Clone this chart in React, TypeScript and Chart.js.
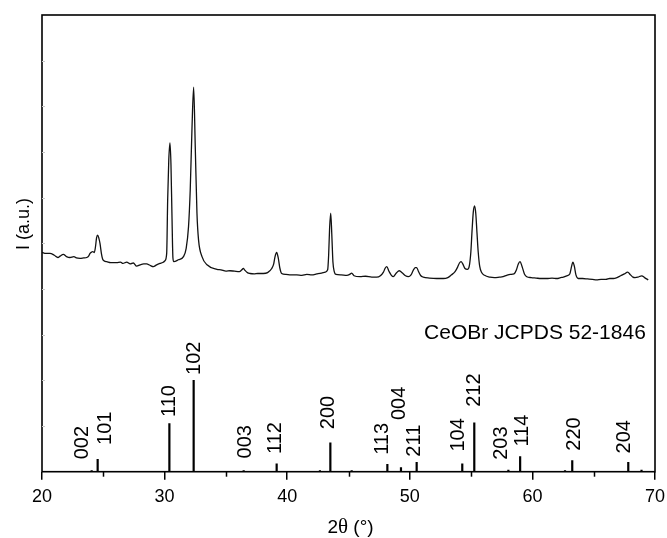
import React, { useEffect, useRef } from "react";
import { Chart, registerables } from "chart.js";
Chart.register(...registerables);

// Measured XRD pattern: [2θ (°), intensity (a.u.)]
const xrdPattern: [number, number][] = [
  [20.02, 48.0], [20.3, 47.8], [20.65, 47.8], [21.0, 47.4], [21.3, 46.9], [21.47, 47.2], [21.74, 47.6],
  [22.0, 47.1], [22.28, 46.9], [22.6, 47.1], [22.8, 46.8], [23.1, 46.7], [23.4, 46.8], [23.65, 46.9],
  [23.8, 47.2], [23.92, 47.8], [24.05, 48.1], [24.14, 48.2], [24.27, 48.0], [24.36, 49.2], [24.45, 51.2],
  [24.54, 51.8], [24.63, 51.2], [24.73, 50.0], [24.85, 47.7], [24.95, 46.5], [25.1, 46.1], [25.28, 46.0],
  [25.6, 45.8], [26.09, 45.8], [26.4, 45.9], [26.6, 45.6], [26.91, 45.9], [27.2, 45.5], [27.45, 45.7],
  [27.72, 45.0], [28.0, 45.3], [28.3, 45.5], [28.54, 45.5], [28.8, 45.2], [29.08, 44.9], [29.35, 45.3],
  [29.62, 45.6], [29.85, 45.8], [30.03, 46.2], [30.17, 47.8], [30.25, 59.5], [30.34, 68.2], [30.44, 72.0],
  [30.52, 67.2], [30.6, 56.2], [30.68, 46.8], [30.75, 46.0], [31.12, 46.4], [31.54, 47.1], [31.76, 48.9],
  [31.95, 53.6], [32.09, 61.7], [32.23, 74.8], [32.37, 84.2], [32.5, 71.2], [32.64, 56.6], [32.77, 50.7],
  [33.05, 47.1], [33.46, 45.3], [34.27, 44.3], [34.6, 44.2], [35.0, 43.9], [35.33, 44.0], [35.7, 43.9],
  [36.1, 43.8], [36.3, 44.2], [36.42, 44.5], [36.55, 44.1], [36.75, 43.6], [36.97, 43.4], [37.3, 43.3],
  [37.6, 43.4], [38.05, 43.4], [38.4, 43.6], [38.74, 44.5], [38.9, 45.5], [39.0, 47.0], [39.14, 48.0],
  [39.27, 46.8], [39.4, 44.6], [39.55, 43.4], [39.9, 43.2], [40.3, 43.1], [40.78, 43.1], [41.2, 43.0],
  [41.6, 43.2], [42.0, 43.1], [42.41, 43.3], [42.8, 43.5], [43.1, 43.7], [43.3, 44.2], [43.38, 47.4],
  [43.46, 53.4], [43.55, 56.6], [43.64, 51.8], [43.73, 45.9], [43.85, 43.7], [43.98, 43.2], [44.4, 43.1],
  [44.85, 43.0], [45.1, 43.2], [45.26, 43.5], [45.45, 42.9], [45.94, 42.7], [46.4, 42.8], [46.9, 42.6],
  [47.3, 42.6], [47.6, 42.9], [47.85, 43.7], [48.0, 44.6], [48.12, 44.9], [48.3, 43.9], [48.5, 43.0],
  [48.65, 42.7], [48.9, 43.5], [49.14, 44.0], [49.4, 43.5], [49.65, 42.9], [49.88, 42.7], [50.1, 43.1],
  [50.3, 44.2], [50.45, 44.7], [50.56, 44.7], [50.7, 43.9], [50.9, 42.9], [51.1, 42.6], [51.6, 42.4],
  [52.2, 42.3], [52.73, 42.3], [53.1, 42.5], [53.4, 43.1], [53.69, 43.8], [53.9, 44.8], [54.05, 45.7],
  [54.18, 46.0], [54.32, 45.5], [54.5, 44.5], [54.7, 44.3], [54.85, 45.0], [54.98, 48.1], [55.08, 52.9],
  [55.18, 56.9], [55.28, 58.2], [55.38, 56.6], [55.48, 52.3], [55.58, 48.1], [55.7, 45.0], [55.86, 43.6],
  [56.1, 43.0], [56.54, 42.6], [56.9, 42.5], [57.3, 42.6], [57.6, 42.7], [57.9, 43.0], [58.2, 43.2],
  [58.5, 43.3], [58.7, 44.2], [58.85, 45.5], [58.99, 46.0], [59.15, 45.0], [59.35, 43.3], [59.54, 42.7],
  [59.9, 42.5], [60.3, 42.4], [60.7, 42.3], [61.17, 42.3], [61.6, 42.4], [62.0, 42.3], [62.3, 42.5],
  [62.52, 42.6], [62.8, 42.9], [63.05, 43.3], [63.2, 45.0], [63.3, 45.9], [63.42, 45.0], [63.55, 43.1],
  [63.74, 42.3], [64.1, 42.3], [64.5, 42.2], [64.9, 42.1], [65.24, 42.0], [65.6, 42.1], [66.0, 42.1],
  [66.3, 42.3], [66.6, 42.3], [66.9, 42.5], [67.2, 42.9], [67.5, 43.3], [67.77, 43.7], [68.0, 43.1],
  [68.2, 42.6], [68.37, 42.5], [68.6, 42.6], [68.92, 42.9], [69.15, 42.5], [69.45, 42.0],
];

// Reference pattern (CeOBr JCPDS 52-1846)
const refPositions = [24.05, 24.54, 30.39, 32.37, 36.45, 39.14, 42.67, 43.52, 45.26, 48.17, 49.28, 50.56, 54.28, 55.26, 58.04, 59.0, 62.66, 63.25, 67.82, 68.9];
const refIntensities = [0.3, 2.8, 10.6, 20.1, 0.3, 1.8, 0.3, 6.4, 0.3, 1.7, 1.0, 2.1, 1.8, 10.8, 0.4, 3.4, 0.3, 2.5, 2.1, 0.4];

// hkl annotations and their anchor points in data units (2θ, intensity)
const hklLabels = ["002", "101", "110", "102", "003", "112", "200", "113", "004", "211", "104", "212", "203", "114", "220", "204"];
const hklAnchorX = [23.22, 25.11, 30.3, 32.34, 36.53, 39.0, 43.25, 47.71, 49.06, 50.29, 53.93, 55.18, 57.4, 59.13, 63.34, 67.41];
const hklAnchorY = [2.7, 5.85, 12.0, 21.2, 2.9, 3.9, 9.3, 3.7, 11.3, 3.3, 4.4, 14.2, 2.6, 5.5, 4.6, 4.0];

const xMajorTicks = [20, 30, 40, 50, 60, 70];
const xMinorTicks = [25, 35, 45, 55, 65];
const yMinorTicks = [10, 20, 30, 40, 50, 60, 70, 80, 90];

const refCaption = "CeOBr JCPDS 52-1846";
const xTitleParts = ["2", "θ", " (°)"];
const yTitle = "I (a.u.)";

const SANS = '"Liberation Sans", Arial, sans-serif';
const SERIF = '"Liberation Serif", "Times New Roman", serif';

const decorPlugin = {
  id: "decor",
  afterDraw(chart: any) {
    const { ctx, chartArea, scales } = chart;
    const xs = scales.x;
    const ys = scales.y;
    ctx.save();
    // frame
    ctx.strokeStyle = "#000";
    ctx.lineWidth = 1.6;
    ctx.strokeRect(chartArea.left, chartArea.top, chartArea.right - chartArea.left, chartArea.bottom - chartArea.top);
    // minor x ticks
    ctx.lineWidth = 1.5;
    xMinorTicks.forEach((v) => {
      const px = Math.round(xs.getPixelForValue(v)) + 0.5;
      ctx.beginPath();
      ctx.moveTo(px, chartArea.bottom);
      ctx.lineTo(px, chartArea.bottom + 5);
      ctx.stroke();
    });
    // faint inward y ticks
    ctx.strokeStyle = "#c8c8c8";
    ctx.lineWidth = 1;
    yMinorTicks.forEach((v) => {
      const py = Math.round(ys.getPixelForValue(v)) + 0.5;
      ctx.beginPath();
      ctx.moveTo(chartArea.left, py);
      ctx.lineTo(chartArea.left + 3, py);
      ctx.stroke();
    });
    // hkl labels
    ctx.fillStyle = "#000";
    ctx.font = `20px ${SANS}`;
    ctx.textAlign = "left";
    ctx.textBaseline = "middle";
    hklLabels.forEach((t, i) => {
      const px = xs.getPixelForValue(hklAnchorX[i]);
      const py = ys.getPixelForValue(hklAnchorY[i]);
      ctx.save();
      ctx.translate(px, py);
      ctx.rotate(-Math.PI / 2);
      ctx.fillText(t, 0, 1);
      ctx.restore();
    });
    // reference caption
    ctx.font = `21px ${SANS}`;
    ctx.textAlign = "right";
    ctx.fillText(refCaption, xs.getPixelForValue(69.25), ys.getPixelForValue(30.4));
    // x title with serif theta
    const fonts = [`19px ${SANS}`, `21px ${SERIF}`, `19px ${SANS}`];
    const widths = xTitleParts.map((p, i) => {
      ctx.font = fonts[i];
      return ctx.measureText(p).width;
    });
    const total = widths.reduce((a, b) => a + b, 0);
    let cx = (chartArea.left + chartArea.right) / 2 + 2 - total / 2;
    ctx.textAlign = "left";
    ctx.textBaseline = "alphabetic";
    xTitleParts.forEach((p, i) => {
      ctx.font = fonts[i];
      ctx.fillText(p, cx, 533);
      cx += widths[i];
    });
    // y title
    ctx.font = `18px ${SANS}`;
    ctx.textAlign = "center";
    ctx.textBaseline = "middle";
    ctx.save();
    ctx.translate(24, 224);
    ctx.rotate(-Math.PI / 2);
    ctx.fillText(yTitle, 0, 0);
    ctx.restore();
    ctx.restore();
  },
};

export default function App() {
  const ref = useRef<HTMLCanvasElement | null>(null);
  useEffect(() => {
    if (!ref.current) return;
    const stickData: any[] = [];
    refPositions.forEach((p, i) => {
      stickData.push({ x: p, y: 0 }, { x: p, y: refIntensities[i] }, { x: p, y: null });
    });
    const chart = new Chart(ref.current, {
      type: "line",
      data: {
        datasets: [
          {
            label: "sample",
            data: xrdPattern.map(([x, y]) => ({ x, y })),
            borderColor: "#111",
            borderWidth: 1.3,
            pointRadius: 0,
            fill: false,
            cubicInterpolationMode: "monotone",
          },
          {
            label: "reference",
            data: stickData,
            borderColor: "#000",
            borderWidth: 2.2,
            pointRadius: 0,
            spanGaps: false,
            fill: false,
            tension: 0,
          },
        ],
      },
      options: {
        animation: false,
        responsive: false,
        events: [],
        layout: { padding: { top: 15, right: 12, left: 0, bottom: 0 } },
        plugins: { legend: { display: false }, tooltip: { enabled: false } },
        scales: {
          x: {
            type: "linear",
            min: 20,
            max: 70,
            afterFit: (s: any) => {
              s.height = 66.3;
              s.paddingLeft = 0;
              s.paddingRight = 0;
            },
            afterBuildTicks: (s: any) => {
              s.ticks = xMajorTicks.map((v) => ({ value: v }));
            },
            border: { display: false },
            grid: {
              display: true,
              drawOnChartArea: false,
              drawTicks: true,
              tickLength: 8,
              color: "#000",
              lineWidth: 1.5,
            },
            ticks: {
              color: "#000",
              font: { family: SANS, size: 18 },
              padding: 7,
              maxRotation: 0,
              autoSkip: false,
            },
          },
          y: {
            min: 0,
            max: 100,
            afterFit: (s: any) => {
              s.width = 42;
              s.paddingTop = 0;
              s.paddingBottom = 0;
            },
            border: { display: false },
            grid: { display: false },
            ticks: { display: false },
          },
        },
      },
      plugins: [decorPlugin],
    });
    return () => chart.destroy();
  }, []);
  return (
    <div style={{ position: "fixed", left: 0, top: 0, width: 667, height: 538, background: "#fff" }}>
      <canvas ref={ref} width={667} height={538} style={{ display: "block" }} />
    </div>
  );
}
